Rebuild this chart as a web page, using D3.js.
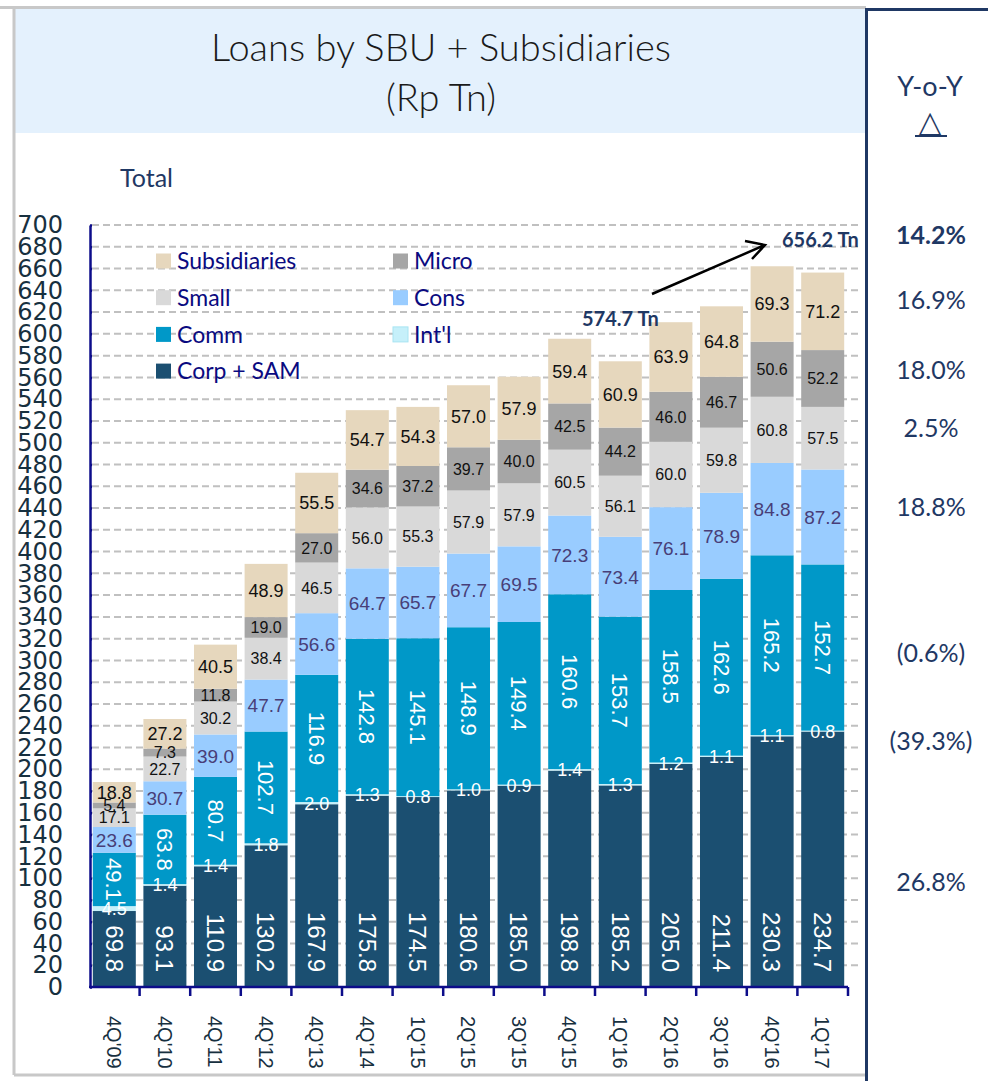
<!DOCTYPE html>
<html>
<head>
<meta charset="utf-8">
<script src="https://cdn.jsdelivr.net/npm/d3@7"></script>
<style>
  body { margin: 0; background: #fff; }
</style>
</head>
<body>
<div id="chart"></div>
<script>
// DATA
var quarters = ["4Q'09", "4Q'10", "4Q'11", "4Q'12", "4Q'13", "4Q'14", "1Q'15", "2Q'15", "3Q'15", "4Q'15", "1Q'16", "2Q'16", "3Q'16", "4Q'16", "1Q'17"];
var corpSam = [69.8, 93.1, 110.9, 130.2, 167.9, 175.8, 174.5, 180.6, 185.0, 198.8, 185.2, 205.0, 211.4, 230.3, 234.7];
var intl = [4.5, 1.4, 1.4, 1.8, 2.0, 1.3, 0.8, 1.0, 0.9, 1.4, 1.3, 1.2, 1.1, 1.1, 0.8];
var comm = [49.1, 63.8, 80.7, 102.7, 116.9, 142.8, 145.1, 148.9, 149.4, 160.6, 153.7, 158.5, 162.6, 165.2, 152.7];
var cons = [23.6, 30.7, 39.0, 47.7, 56.6, 64.7, 65.7, 67.7, 69.5, 72.3, 73.4, 76.1, 78.9, 84.8, 87.2];
var small = [17.1, 22.7, 30.2, 38.4, 46.5, 56.0, 55.3, 57.9, 57.9, 60.5, 56.1, 60.0, 59.8, 60.8, 57.5];
var micro = [5.4, 7.3, 11.8, 19.0, 27.0, 34.6, 37.2, 39.7, 40.0, 42.5, 44.2, 46.0, 46.7, 50.6, 52.2];
var subsidiaries = [18.8, 27.2, 40.5, 48.9, 55.5, 54.7, 54.3, 57.0, 57.9, 59.4, 60.9, 63.9, 64.8, 69.3, 71.2];

var totalLabels = ["574.7 Tn", "656.2 Tn"];
var yoyLabels = ["14.2%", "16.9%", "18.0%", "2.5%", "18.8%", "(0.6%)", "(39.3%)", "26.8%"];
var legendNames = ["Subsidiaries", "Micro", "Small", "Cons", "Comm", "Int'l", "Corp + SAM"];
var yTicks = d3.range(0, 701, 20);

//SET UP
var width = 988,
    height = 1081;

var navy = '#1f3864',
    axisBlue = '#0c0c8a';

var svg = d3.select('#chart').append('svg')
    .attr('width', width)
    .attr('height', height);

//series styling
var series = [
  {key: 'corp',  name: 'Corp + SAM',   values: corpSam,      color: '#1b4f71', text: '#ffffff', size: 24, mode: 'base'},
  {key: 'intl',  name: "Int'l",        values: intl,         color: '#c6f0fa', text: '#ffffff', size: 18, mode: 'flat'},
  {key: 'comm',  name: 'Comm',         values: comm,         color: '#0098c8', text: '#ffffff', size: 22, mode: 'mid'},
  {key: 'cons',  name: 'Cons',         values: cons,         color: '#99ccff', text: '#483e78', size: 19, mode: 'flat'},
  {key: 'small', name: 'Small',        values: small,        color: '#d9d9d9', text: '#111111', size: 16, mode: 'flat'},
  {key: 'micro', name: 'Micro',        values: micro,        color: '#a6a6a6', text: '#111111', size: 16, mode: 'flat'},
  {key: 'subs',  name: 'Subsidiaries', values: subsidiaries, color: '#e6d7bd', text: '#111111', size: 18, mode: 'flat'}
];

var table = quarters.map(function (q, i) {
  var row = {quarter: q};
  series.forEach(function (s) { row[s.key] = s.values[i]; });
  return row;
});

var stacked = d3.stack().keys(series.map(function (s) { return s.key; }))(table);

//FRAME
svg.append('rect')
    .attr('x', 15).attr('y', 9)
    .attr('width', 850).attr('height', 124)
    .attr('fill', '#e4f1fd');

svg.append('path')
    .attr('d', 'M0,7.5 H866 M14,7 V1075 M14,1075 H866')
    .attr('fill', 'none')
    .attr('stroke', '#c8c8c8')
    .attr('stroke-width', 3);

svg.append('path')
    .attr('d', 'M866.5,8 V1081 M866,9.5 H988')
    .attr('fill', 'none')
    .attr('stroke', navy)
    .attr('stroke-width', 3);

//TITLES
svg.append('text')
    .attr('x', 441).attr('y', 61)
    .attr('text-anchor', 'middle')
    .style('font', '300 38px Lato')
    .style('fill', '#1a1a1a')
    .text('Loans by SBU + Subsidiaries');

svg.append('text')
    .attr('x', 441).attr('y', 111)
    .attr('text-anchor', 'middle')
    .style('font', '300 38px Lato')
    .style('fill', '#1a1a1a')
    .text('(Rp Tn)');

svg.append('text')
    .attr('x', 120).attr('y', 187)
    .style('font', '25px Lato')
    .style('fill', navy)
    .text('Total');

//SCALES
var y = d3.scaleLinear()
    .domain([0, 700])
    .range([987, 225]);

var x = d3.scaleBand()
    .domain(quarters)
    .range([89, 848])
    .paddingInner(0.15)
    .paddingOuter(0.075);

var bw = x.bandwidth(),
    gap = (x.step() - bw) / 2;

//GRIDLINES
svg.append('g').selectAll('line')
    .data(yTicks.filter(function (t) { return t > 0; }))
  .enter().append('line')
    .attr('x1', 92).attr('x2', 862)
    .attr('y1', function (d) { return y(d); })
    .attr('y2', function (d) { return y(d); })
    .attr('stroke', '#c0c0c0')
    .attr('stroke-width', 2)
    .attr('stroke-dasharray', '7,4');

//LEGEND
var legend = svg.append('g');
legendNames.forEach(function (name, i) {
  var s = series.find(function (d) { return d.name === name; });
  var lx = (i % 2 === 0) ? 156 : 393,
      ly = 261 + Math.floor(i / 2) * 36.7;
  legend.append('rect')
      .attr('x', lx).attr('y', ly - 7.5)
      .attr('width', 15).attr('height', 15)
      .attr('fill', s.color)
      .attr('stroke', s.key === 'intl' ? '#a8e4f2' : 'none');
  legend.append('text')
      .attr('x', lx + 21).attr('y', ly)
      .attr('dy', '0.36em')
      .style('font', '23px Lato')
      .style('fill', '#0a0a80')
      .text(name);
});

//BARS
var layers = svg.append('g').selectAll('g')
    .data(stacked)
  .enter().append('g')
    .attr('fill', function (d, i) { return series[i].color; });

layers.selectAll('rect')
    .data(function (d) { return d; })
  .enter().append('rect')
    .attr('x', function (d) { return x(d.data.quarter); })
    .attr('y', function (d) { return y(d[1]); })
    .attr('width', bw)
    .attr('height', function (d) { return y(d[0]) - y(d[1]); });

//VALUE LABELS
stacked.forEach(function (layer, i) {
  var s = series[i];
  var g = svg.append('g')
      .style('font-family', '"Liberation Sans", Arial, sans-serif')
      .style('font-size', s.size + 'px')
      .style('fill', s.text);

  g.selectAll('text')
      .data(layer)
    .enter().append('text')
      .attr('text-anchor', s.mode === 'base' ? 'end' : 'middle')
      .attr('dy', '0.36em')
      .attr('transform', function (d) {
        var cx = x(d.data.quarter) + bw / 2,
            cy = (y(d[0]) + y(d[1])) / 2;
        if (s.mode === 'base') return 'translate(' + cx + ',' + (y(0) - 15) + ') rotate(90)';
        if (s.mode === 'mid') return 'translate(' + cx + ',' + cy + ') rotate(90)';
        return 'translate(' + cx + ',' + cy + ')';
      })
      .text(function (d) { return d.data[s.key].toFixed(1); });
});

//Y AXIS
var yAxis = svg.append('g')
    .attr('transform', 'translate(90,0)')
    .call(d3.axisLeft(y).tickValues(yTicks).tickSize(9).tickSizeOuter(0).tickPadding(18));

yAxis.select('.domain')
    .attr('stroke', axisBlue)
    .attr('stroke-width', 2.5);

yAxis.selectAll('.tick line')
    .attr('x2', 2)
    .attr('stroke', axisBlue)
    .attr('stroke-width', 2.5);

yAxis.selectAll('.tick text')
    .style('font', '24px "DejaVu Sans"')
    .style('fill', '#17303f');

//X AXIS
var xAxis = svg.append('g');

xAxis.append('line')
    .attr('x1', 89).attr('x2', 848)
    .attr('y1', 987).attr('y2', 987)
    .attr('stroke', axisBlue)
    .attr('stroke-width', 2.5);

xAxis.selectAll('.xtick')
    .data(quarters)
  .enter().append('line')
    .attr('class', 'xtick')
    .attr('x1', function (d) { return x(d) + bw + gap; })
    .attr('x2', function (d) { return x(d) + bw + gap; })
    .attr('y1', 987).attr('y2', 996)
    .attr('stroke', axisBlue)
    .attr('stroke-width', 2.5);

xAxis.selectAll('.xlabel')
    .data(quarters)
  .enter().append('text')
    .attr('class', 'xlabel')
    .attr('dy', '0.36em')
    .attr('transform', function (d) { return 'translate(' + (x(d) + bw / 2) + ',1016) rotate(90)'; })
    .style('font', '20px "Liberation Sans", Arial, sans-serif')
    .style('fill', '#17303f')
    .text(function (d) { return d; });

//ANNOTATION
svg.append('text')
    .attr('x', 582).attr('y', 326)
    .style('font', 'bold 20px Lato')
    .style('fill', navy)
    .text(totalLabels[0]);

svg.append('text')
    .attr('x', 782).attr('y', 247)
    .style('font', 'bold 20px Lato')
    .style('fill', navy)
    .text(totalLabels[1]);

svg.append('path')
    .attr('d', 'M652,294 L765,245 M745,241 L765,245 L752,259')
    .attr('fill', 'none')
    .attr('stroke', '#000')
    .attr('stroke-width', 2.5);

//Y-o-Y PANEL
svg.append('text')
    .attr('x', 930).attr('y', 96)
    .attr('text-anchor', 'middle')
    .style('font', '27px Lato')
    .style('fill', navy)
    .text('Y-o-Y');

svg.append('text')
    .attr('x', 930).attr('y', 132)
    .attr('text-anchor', 'middle')
    .style('font', '30px "DejaVu Sans"')
    .style('fill', navy)
    .text('\u25B3');

svg.append('line')
    .attr('x1', 915).attr('x2', 947)
    .attr('y1', 136).attr('y2', 136)
    .attr('stroke', navy)
    .attr('stroke-width', 2);

var yoyY = [244, 309, 379, 437, 516, 662, 750, 891];
svg.append('g').selectAll('text')
    .data(yoyLabels)
  .enter().append('text')
    .attr('x', 931)
    .attr('y', function (d, i) { return yoyY[i]; })
    .attr('text-anchor', 'middle')
    .style('font', function (d, i) { return (i === 0 ? 'bold ' : '') + '25px Lato'; })
    .style('fill', navy)
    .text(function (d) { return d; });
</script>
</body>
</html>
